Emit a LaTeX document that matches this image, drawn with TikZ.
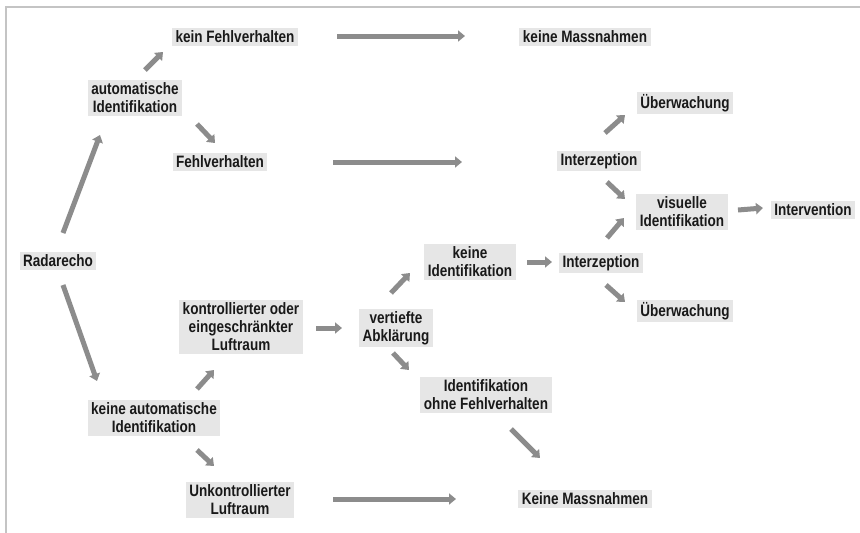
\documentclass[tikz,border=0pt]{standalone}
\usepackage{fontspec}
\setmainfont{Liberation Sans}[FakeStretch=0.82]
\usetikzlibrary{arrows.meta}
\definecolor{boxgray}{HTML}{E6E6E6}
\definecolor{arrgray}{HTML}{8C8C8C}
\definecolor{framegray}{HTML}{C4C4C4}
\tikzset{
  lbl/.style={fill=boxgray, inner xsep=3.5pt, inner ysep=2.5pt, align=center,
    font=\fontsize{16.5}{18}\selectfont\bfseries, text=black!90},
  arr/.style={draw=arrgray, line width=5pt,
    -{Triangle[length=7pt,width=11pt]}, arrgray},
}
\begin{document}
\begin{tikzpicture}[x=1pt,y=-1pt]
\useasboundingbox (0,0) rectangle (860,533);
\fill[white] (0,0) rectangle (860,533);
\draw[framegray, line width=2pt] (6,533) -- (6,7) -- (860,7);

\node[lbl] (radar) at (58,261) {Radarecho};
\node[lbl] (auto) at (135,98) {automatische\\Identifikation};
\node[lbl] (kein) at (235,37) {kein Fehlverhalten};
\node[lbl] (fehl) at (220,162) {Fehlverhalten};
\node[lbl] (keineM) at (585,37) {keine Massnahmen};
\node[lbl] (interz1) at (599,161) {Interzeption};
\node[lbl] (ueber1) at (685,103) {Überwachung};
\node[lbl] (visuelle) at (682,212) {visuelle\\Identifikation};
\node[lbl] (interv) at (813,210) {Intervention};
\node[lbl] (interz2) at (601,263) {Interzeption};
\node[lbl] (keineIdent) at (470,262) {keine\\Identifikation};
\node[lbl] (vertiefte) at (396,328) {vertiefte\\Abklärung};
\node[lbl] (kontroll) at (241,327) {kontrollierter oder\\eingeschränkter\\Luftraum};
\node[lbl] (keineAuto) at (154,418) {keine automatische\\Identifikation};
\node[lbl] (ueber2) at (685,311) {Überwachung};
\node[lbl] (identOhne) at (486,395) {Identifikation\\ohne Fehlverhalten};
\node[lbl] (unkontr) at (240,500) {Unkontrollierter\\Luftraum};
\node[lbl] (keineM2) at (585,499) {Keine Massnahmen};

\draw[arr] ([shift={(5,-28)}]radar.center) -- ([shift={(-35,37)}]auto.center);
\draw[arr] ([shift={(10,-28)}]auto.center) -- ([shift={(-72,15)}]kein.center);
\draw[arr] ([shift={(62,26)}]auto.center) -- ([shift={(-5,-19)}]fehl.center);
\draw[arr] ([shift={(102,-1)}]kein.center) -- ([shift={(-120,-1)}]keineM.center);
\draw[arr] ([shift={(113,0)}]fehl.center) -- ([shift={(-137,1)}]interz1.center);
\draw[arr] ([shift={(6,-28)}]interz1.center) -- ([shift={(-60,12)}]ueber1.center);
\draw[arr] ([shift={(8,21)}]interz1.center) -- ([shift={(-57,-13)}]visuelle.center);
\draw[arr] ([shift={(56,-2)}]visuelle.center) -- ([shift={(-50,-2)}]interv.center);
\draw[arr] ([shift={(6,-25)}]interz2.center) -- ([shift={(-58,6)}]visuelle.center);
\draw[arr] ([shift={(57,0)}]keineIdent.center) -- ([shift={(-49,-1)}]interz2.center);
\draw[arr] ([shift={(5,22)}]interz2.center) -- ([shift={(-60,-9)}]ueber2.center);
\draw[arr] ([shift={(-5,-35)}]vertiefte.center) -- ([shift={(-60,11)}]keineIdent.center);
\draw[arr] ([shift={(-3,25)}]vertiefte.center) -- ([shift={(-77,-25)}]identOhne.center);
\draw[arr] ([shift={(25,34)}]identOhne.center) -- ([shift={(-45,-41)}]keineM2.center);
\draw[arr] ([shift={(5,24)}]radar.center) -- ([shift={(-57,-37)}]keineAuto.center);
\draw[arr] ([shift={(75,1)}]kontroll.center) -- ([shift={(-54,0)}]vertiefte.center);
\draw[arr] ([shift={(43,-29)}]keineAuto.center) -- ([shift={(-27,43)}]kontroll.center);
\draw[arr] ([shift={(43,32)}]keineAuto.center) -- ([shift={(-26,-34)}]unkontr.center);
\draw[arr] ([shift={(93,-1)}]unkontr.center) -- ([shift={(-129,0)}]keineM2.center);
\end{tikzpicture}
\end{document}
